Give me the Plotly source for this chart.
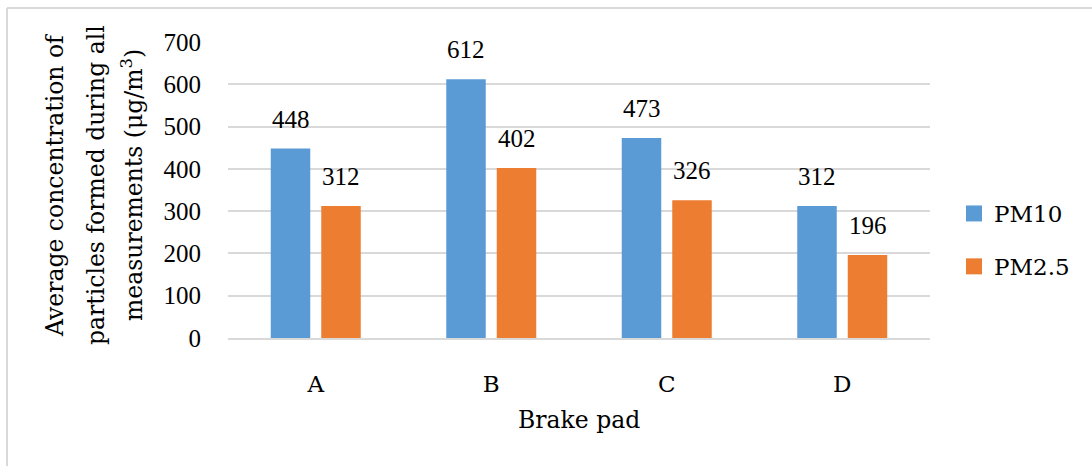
import plotly.graph_objects as go

categories = ["A", "B", "C", "D"]
pm10 = [448, 612, 473, 312]
pm25 = [312, 402, 326, 196]
series_names = ["PM10", "PM2.5"]
y_ticks = [0, 100, 200, 300, 400, 500, 600, 700]
y_title_lines = [
    "Average concentration of",
    "particles formed during all",
    "measurements (μg/m<sup>3</sup>)",
]
x_title = "Brake pad"

BLUE = "#5b9bd5"
ORANGE = "#ed7d31"
GRID = "#d9d9d9"
NUM_FONT = dict(family="Liberation Serif, serif", size=25, color="#000000")
TXT_FONT = dict(family="DejaVu Serif, serif", size=23.5, color="#000000")

W, H = 1092, 466
L, R, T, B = 228, 162, 42, 128
PW, PH = W - L - R, H - T - B

BARGAP = 0.4245
GROUPGAP = 0.218
slot = (1 - BARGAP) / 2  # width of each series slot, in category units


def px_x(p):
    return (p - L) / PW


def px_y(p):
    return 1 - (p - T) / PH


fig = go.Figure()
series = [(series_names[0], pm10, BLUE), (series_names[1], pm25, ORANGE)]
for name, vals, col in series:
    fig.add_trace(go.Bar(
        x=categories, y=vals, name=name, legendgroup=name, showlegend=False,
        marker=dict(color=col, line=dict(width=0)),
    ))
# legend entries with larger square swatches
for name, vals, col in series:
    fig.add_trace(go.Scatter(
        x=[None], y=[None], name=name, legendgroup=name, mode="markers",
        marker=dict(symbol="square", size=17, color=col), showlegend=True,
    ))

# value labels above each bar
for k, vals in enumerate([pm10, pm25]):
    off = (k - 0.5) * slot
    for i, v in enumerate(vals):
        fig.add_annotation(
            x=i + off, y=v, xref="x", yref="y", text=str(v),
            showarrow=False, yanchor="bottom", yshift=14, font=NUM_FONT,
        )

# multi-line rotated y-axis title
line_x = [55, 96, 132]
for px, line in zip(line_x, y_title_lines):
    fig.add_annotation(
        x=px_x(px), y=px_y(185), xref="paper", yref="paper",
        text=line, textangle=-90, showarrow=False, font=TXT_FONT,
        xanchor="center", yanchor="middle",
    )

# x-axis title
fig.add_annotation(
    x=0.5, y=px_y(420), xref="paper", yref="paper",
    text=x_title, showarrow=False, font=TXT_FONT,
    xanchor="center", yanchor="middle",
)

# light frame around the chart
fig.add_shape(type="line", xref="paper", yref="paper",
              x0=px_x(7), x1=px_x(W + 10), y0=px_y(8), y1=px_y(8),
              line=dict(color=GRID, width=2))
fig.add_shape(type="line", xref="paper", yref="paper",
              x0=px_x(7), x1=px_x(7), y0=px_y(8), y1=px_y(H + 10),
              line=dict(color=GRID, width=2))

fig.update_layout(
    width=W, height=H,
    margin=dict(l=L, r=R, t=T, b=B, pad=0),
    paper_bgcolor="white", plot_bgcolor="white",
    barmode="group", bargap=BARGAP, bargroupgap=GROUPGAP,
    showlegend=True,
    legend=dict(
        x=px_x(954), y=px_y(192), xanchor="left", yanchor="top",
        font=dict(family="DejaVu Serif, serif", size=23, color="#000000"),
        tracegroupgap=20, traceorder="grouped", bgcolor="rgba(0,0,0,0)",
        itemsizing="trace",
    ),
    xaxis=dict(
        type="category", showgrid=False, showline=True, linecolor=GRID, linewidth=2,
        ticks="", tickfont=dict(family="DejaVu Serif, serif", size=23, color="#000000"),
        ticklabelstandoff=24, zeroline=False,
    ),
    yaxis=dict(
        range=[0, 700], tickvals=y_ticks, showgrid=True, gridcolor=GRID, gridwidth=1.5,
        showline=False, zeroline=False, ticks="", tickfont=NUM_FONT,
        ticklabelstandoff=26,
    ),
)

fig.write_html("out.html")
